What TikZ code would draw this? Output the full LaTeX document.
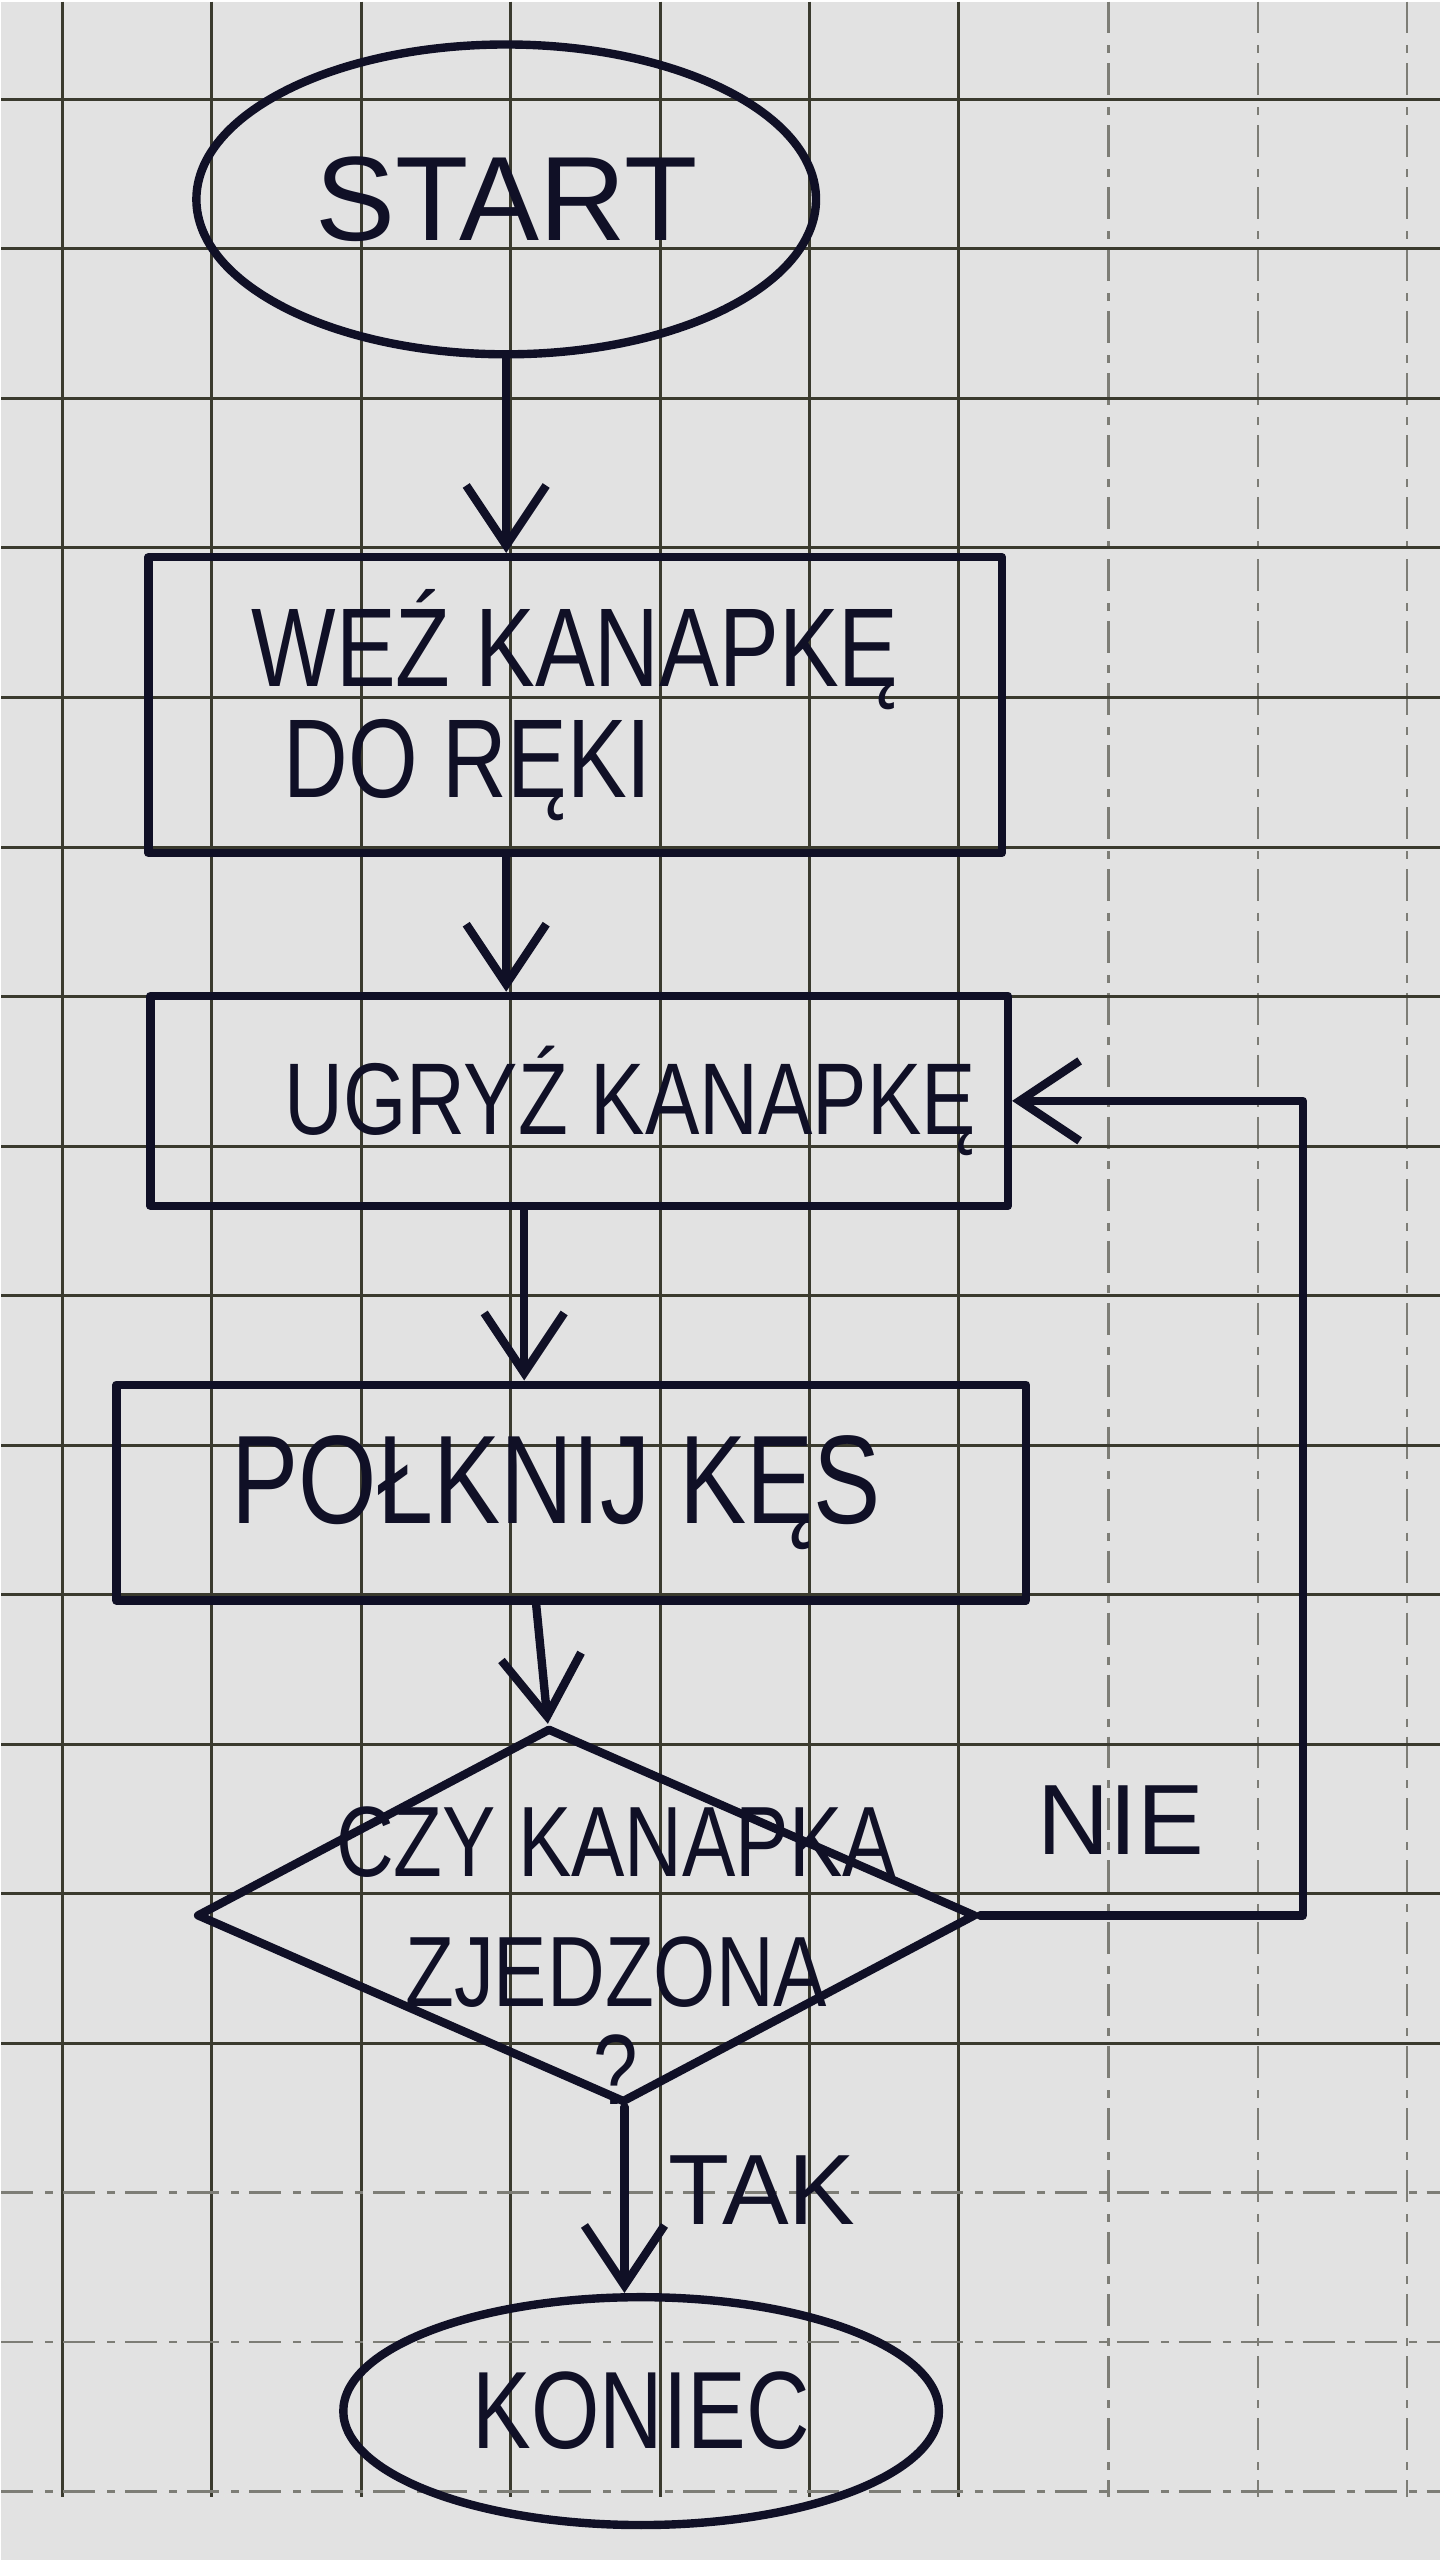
\documentclass[tikz,border=0pt]{standalone}
\usepackage{fontspec}
\setmainfont{Liberation Sans}[FakeStretch=0.8]
\newfontfamily\widefont{Liberation Sans}
\usetikzlibrary{shapes.geometric,arrows.meta,calc}
\definecolor{paper}{RGB}{226,226,226}
\definecolor{gridc}{RGB}{58,58,46}
\definecolor{ink}{RGB}{16,16,38}
\begin{document}
\begin{tikzpicture}[x=0.5pt,y=-0.5pt,
  inkline/.style={draw=ink, line width=4.2pt, line join=round, line cap=round},
  box/.style={inkline, rectangle, inner sep=0pt, align=left, text=ink},
  term/.style={inkline, ellipse, inner sep=0pt, text=ink},
  arr/.style={inkline, -{Straight Barb[length=30pt,width=40pt]}},
  gridline/.style={draw=gridc, line width=1.5pt},
  faint/.style={draw=gridc!60!paper, line width=1.2pt, dash pattern=on 16pt off 6pt on 4pt off 5pt},
  lab/.style={text=ink, inner sep=0pt}]
% paper
\fill[paper] (0,0) rectangle (1439,2560);
% grid
\foreach \k in {0,...,6} \draw[gridline] ({61+149.5*\k},0) -- ({61+149.5*\k},2497);
\foreach \k in {7,8,9} \draw[faint] ({61+149.5*\k},0) -- ({61+149.5*\k},2497);
\foreach \k in {0,...,13} \draw[gridline] (0,{98+149.6*\k}) -- (1439,{98+149.6*\k});
\foreach \k in {14,15,16} \draw[faint] (0,{98+149.6*\k}) -- (1439,{98+149.6*\k});
% nodes
\node[term, minimum width=310pt, minimum height=155pt, font=\widefont\fontsize{60}{72}\selectfont] (start) at (505,198) {START};
\node[box, minimum width=427pt, minimum height=148pt, font=\fontsize{56}{56}\selectfont] (box1) at (574,704) {WEŹ KANAPKĘ\\\hspace*{16pt}DO RĘKI};
\node[box, minimum width=429pt, minimum height=105pt, font=\fontsize{51}{56}\selectfont] (box2) at (578,1100) {\hspace*{51pt}UGRYŹ KANAPKĘ};
\node[box, minimum width=455pt, minimum height=108pt, font=\fontsize{63}{64}\selectfont] (box3) at (570,1492) {POŁKNIJ KĘS\hspace*{15pt}};
\begin{scope}[shift={(585,1915)}, xslant=-0.2]
  \node[inkline, diamond, minimum width=390pt, minimum height=187.5pt, inner sep=0pt, transform shape] (dec) at (0,0) {};
\end{scope}
\node[lab, align=center, anchor=north, font=\fontsize{50}{65}\selectfont] (dectext) at (615,1806) {CZY KANAPKA\\ZJEDZONA\\[-16pt]?};
\node[lab, font=\widefont\fontsize{50}{60}\selectfont] (nie) at (1120,1820) {NIE};
\node[lab, font=\widefont\fontsize{50}{60}\selectfont] (tak) at (761,2190) {TAK};
\node[term, minimum width=298pt, minimum height=114pt, font=\fontsize{55}{60}\selectfont] (end) at (640,2411) {KONIEC};
\coordinate (loop) at (1302,1100);
% connectors
\draw[arr] (start.south) -- (start.south |- box1.north);
\draw[arr] (box1.south -| start.south) -- (box2.north -| start.south);
\draw[arr] ([xshift=-27.5pt]box2.south) -- ([xshift=-27.5pt]box2.south |- box3.north);
\draw[arr] ([xshift=-17.5pt]box3.south) -- (dec.north);
\draw[arr] (dec.east) -| (loop) -- (box2.east);
\draw[arr] (dec.south) -- (dec.south |- end.north);
\end{tikzpicture}
\end{document}
